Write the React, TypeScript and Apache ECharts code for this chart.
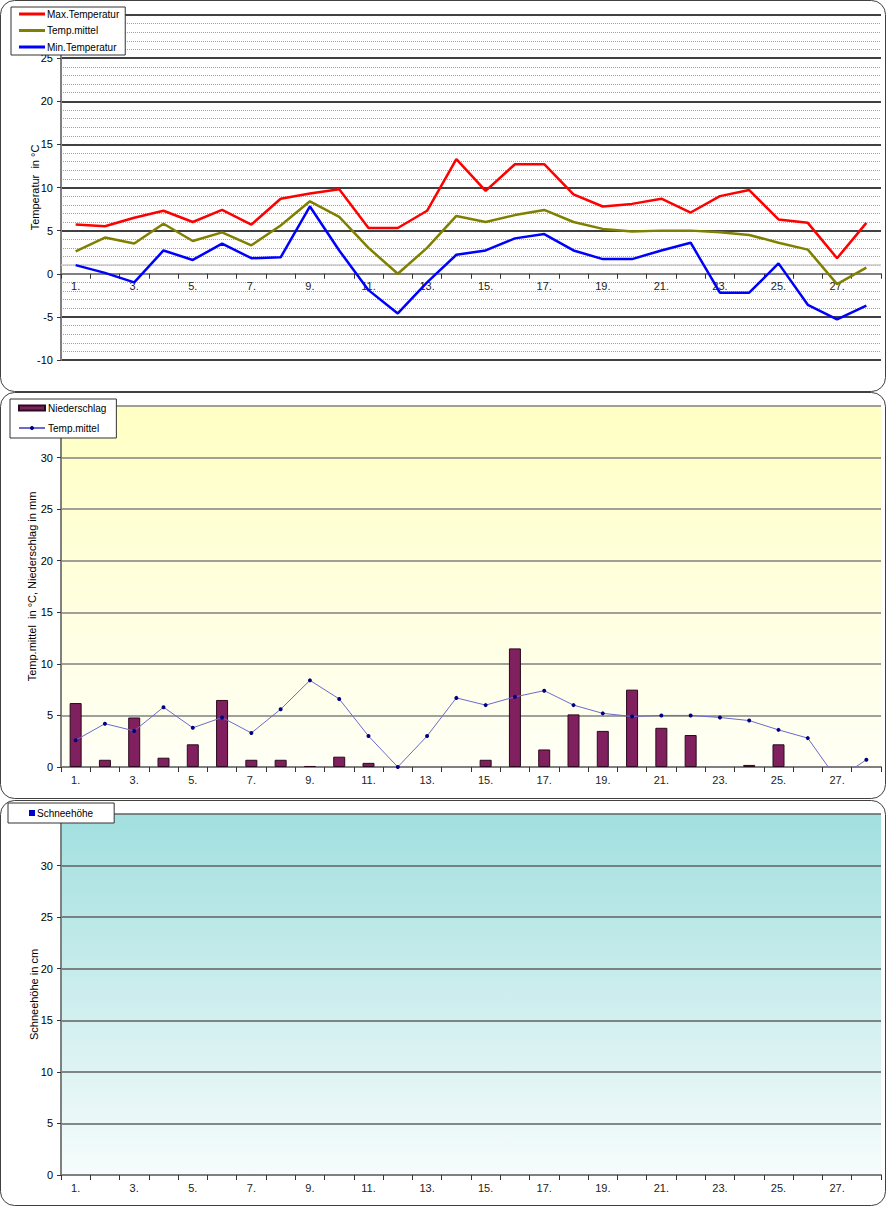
import React, { useEffect, useRef } from "react";
import * as echarts from "echarts";

const days = Array.from({ length: 28 }, (_, i) => `${i + 1}.`);
const maxTemp = [5.7, 5.5, 6.5, 7.3, 6.0, 7.4, 5.7, 8.7, 9.3, 9.8, 5.3, 5.3, 7.3, 13.3, 9.6, 12.7, 12.7, 9.2, 7.8, 8.1, 8.7, 7.1, 9.0, 9.7, 6.3, 5.9, 1.8, 5.9];
const meanTemp = [2.6, 4.2, 3.5, 5.8, 3.8, 4.8, 3.3, 5.6, 8.4, 6.6, 3.0, 0.0, 3.0, 6.7, 6.0, 6.8, 7.4, 6.0, 5.2, 4.9, 5.0, 5.0, 4.8, 4.5, 3.6, 2.8, -1.2, 0.7];
const minTemp = [1.0, 0.1, -1.0, 2.7, 1.6, 3.5, 1.8, 1.9, 7.8, 2.7, -1.9, -4.6, -1.0, 2.2, 2.7, 4.1, 4.6, 2.7, 1.7, 1.7, 2.7, 3.6, -2.2, -2.2, 1.2, -3.6, -5.3, -3.7];
const precipitation = [6.2, 0.7, 4.8, 0.9, 2.2, 6.5, 0.7, 0.7, 0.1, 1.0, 0.4, 0, 0, 0, 0.7, 11.5, 1.7, 5.1, 3.5, 7.5, 3.8, 3.1, 0, 0.2, 2.2, 0, 0, 0];
const snowDepth = [0, 0, 0, 0, 0, 0, 0, 0, 0, 0, 0, 0, 0, 0, 0, 0, 0, 0, 0, 0, 0, 0, 0, 0, 0, 0, 0, 0];

const FONT = "Liberation Sans, Arial, sans-serif";
const TOP_MIN = -10;
const TOP_MAX = 30;
const TOP_H = 345;

export default function App() {
  const ref = useRef<HTMLDivElement>(null);
  useEffect(() => {
    if (!ref.current) return;
    const chart = echarts.init(ref.current, null, { renderer: "svg" });

    const xAxisBase = (gridIndex: number, offset: number) => ({
      type: "category",
      gridIndex,
      data: days,
      boundaryGap: true,
      position: "bottom",
      offset,
      axisLine: { onZero: false, lineStyle: { color: "#808080", width: 2 } },
      axisTick: { show: true, interval: 0, length: 5, lineStyle: { color: "#333" } },
      axisLabel: { interval: 1, fontSize: 11, color: "#222", fontFamily: FONT, margin: 7 },
      splitLine: { show: false },
    });

    const yLabel = { fontSize: 11, color: "#000", fontFamily: FONT, margin: 8 };
    const yName = { fontSize: 11, color: "#000", fontFamily: FONT };
    const hideZero = (arr: number[]) => arr.map((v) => (v === 0 ? null : v));
    // the x axis of the temperature chart crosses at 0
    const zeroOffset = -((0 - TOP_MIN) / (TOP_MAX - TOP_MIN)) * TOP_H;

    const option: any = {
      animation: false,
      backgroundColor: "#fff",
      textStyle: { fontFamily: FONT },
      graphic: [
        { type: "rect", shape: { x: 0.5, y: 0.5, width: 885, height: 391, r: 14 }, style: { fill: "none", stroke: "#404040", lineWidth: 1 }, z: 100 },
        { type: "rect", shape: { x: 0.5, y: 392.5, width: 885, height: 406, r: 14 }, style: { fill: "none", stroke: "#404040", lineWidth: 1 }, z: 100 },
        { type: "rect", shape: { x: 0.5, y: 800.5, width: 885, height: 405, r: 14 }, style: { fill: "none", stroke: "#404040", lineWidth: 1 }, z: 100 },
      ],
      grid: [
        { left: 61, top: 15, width: 820, height: TOP_H, show: false },
        {
          left: 61, top: 406, width: 820, height: 361, show: true, borderWidth: 0,
          backgroundColor: new echarts.graphic.LinearGradient(0, 0, 0, 1, [
            { offset: 0, color: "#ffffc4" },
            { offset: 1, color: "#fffff6" },
          ]),
        },
        {
          left: 61, top: 814, width: 820, height: 361, show: true, borderWidth: 0,
          backgroundColor: new echarts.graphic.LinearGradient(0, 0, 0, 1, [
            { offset: 0, color: "#a2dfdf" },
            { offset: 1, color: "#f7fcfc" },
          ]),
        },
      ],
      legend: [
        {
          data: ["Max.Temperatur", "Temp.mittel", "Min.Temperatur"].map((n) => ({ name: n, icon: "rect" })),
          orient: "vertical", left: 11, top: 7,
          itemWidth: 26, itemHeight: 3, itemGap: 6.5,
          padding: [2, 6, 3, 8],
          backgroundColor: "#fff", borderColor: "#333", borderWidth: 1,
          textStyle: { fontSize: 10, color: "#000", fontFamily: FONT, padding: [0, 0, 0, -3] },
          z: 50,
        },
        {
          data: [
            { name: "Niederschlag", icon: "rect" },
            { name: "Temp.mittel " },
          ],
          orient: "vertical", left: 10, top: 399,
          itemWidth: 26, itemHeight: 5, itemGap: 10,
          padding: [4, 10, 5, 8],
          backgroundColor: "#fff", borderColor: "#333", borderWidth: 1,
          textStyle: { fontSize: 10, color: "#000", fontFamily: FONT, padding: [0, 0, 0, -2] },
          z: 50,
        },
        {
          data: [{ name: "Schneehöhe", icon: "rect" }],
          orient: "horizontal", left: 8, top: 803,
          itemWidth: 6, itemHeight: 6, itemGap: 4,
          padding: [5, 21, 5, 21],
          backgroundColor: "#fff", borderColor: "#333", borderWidth: 1,
          textStyle: { fontSize: 10, color: "#000", fontFamily: FONT, padding: [0, 0, 0, -3] },
          z: 50,
        },
      ],
      xAxis: [xAxisBase(0, zeroOffset), xAxisBase(1, 0), xAxisBase(2, 0)],
      yAxis: [
        {
          type: "value", gridIndex: 0, min: TOP_MIN, max: TOP_MAX, interval: 5,
          name: "Temperatur  in °C", nameLocation: "middle", nameGap: 21, nameMoveOverlap: false, nameTextStyle: yName,
          axisLine: { show: true, lineStyle: { color: "#808080", width: 2 } },
          axisTick: { show: true, length: 4, lineStyle: { color: "#333" } },
          axisLabel: { ...yLabel, formatter: (v: number) => (v === TOP_MAX ? "" : String(v)) },
          splitLine: { show: true, lineStyle: { color: "#000", width: 1.5 } },
          minorTick: { show: false, splitNumber: 5 },
          minorSplitLine: { show: true, lineStyle: { color: "#a0a0a0", width: 1, type: [1, 1] } },
        },
        {
          type: "value", gridIndex: 1, min: 0, max: 35, interval: 5,
          name: "Temp.mittel  in °C, Niederschlag in mm", nameLocation: "middle", nameGap: 24, nameMoveOverlap: false, nameTextStyle: yName,
          axisLine: { show: true, lineStyle: { color: "#808080", width: 2 } },
          axisTick: { show: true, length: 4, lineStyle: { color: "#333" } },
          axisLabel: { ...yLabel, formatter: (v: number) => (v === 35 ? "" : String(v)) },
          splitLine: { show: true, lineStyle: { color: "#808080", width: 1.5 } },
        },
        {
          type: "value", gridIndex: 2, min: 0, max: 35, interval: 5,
          name: "Schneehöhe in cm", nameLocation: "middle", nameGap: 22, nameMoveOverlap: false, nameTextStyle: yName,
          axisLine: { show: true, lineStyle: { color: "#808080", width: 2 } },
          axisTick: { show: true, length: 4, lineStyle: { color: "#333" } },
          axisLabel: { ...yLabel, formatter: (v: number) => (v === 35 ? "" : String(v)) },
          splitLine: { show: true, lineStyle: { color: "#606060", width: 1.5 } },
        },
      ],
      series: [
        {
          name: "Max.Temperatur", type: "line", xAxisIndex: 0, yAxisIndex: 0, data: maxTemp,
          showSymbol: false, symbol: "none", color: "#ff0000", lineStyle: { width: 2.5, color: "#ff0000" }, z: 5,
        },
        {
          name: "Temp.mittel", type: "line", xAxisIndex: 0, yAxisIndex: 0, data: meanTemp,
          showSymbol: false, symbol: "none", color: "#808000", lineStyle: { width: 2.5, color: "#808000" }, z: 5,
        },
        {
          name: "Min.Temperatur", type: "line", xAxisIndex: 0, yAxisIndex: 0, data: minTemp,
          showSymbol: false, symbol: "none", color: "#0000ff", lineStyle: { width: 2.5, color: "#0000ff" }, z: 5,
          markLine: {
            silent: true, symbol: "none", label: { show: false },
            lineStyle: { color: "#c8c8c8", type: "solid", width: 1.5 },
            data: [{ yAxis: 1 }],
            z: 1,
          },
        },
        {
          name: "Niederschlag", type: "bar", xAxisIndex: 1, yAxisIndex: 1, data: hideZero(precipitation),
          barWidth: 12, color: "#80205e",
          itemStyle: { color: "#80205e", borderColor: "#2a0a1e", borderWidth: 1 },
        },
        {
          name: "Temp.mittel ", type: "line", xAxisIndex: 1, yAxisIndex: 1, data: meanTemp,
          symbol: "circle", symbolSize: 4, showSymbol: true, clip: true,
          color: "#000080",
          itemStyle: { color: "#000080" },
          lineStyle: { width: 1, color: "#6a6acd" },
          z: 5,
        },
        {
          name: "Schneehöhe", type: "bar", xAxisIndex: 2, yAxisIndex: 2, data: hideZero(snowDepth),
          barWidth: 12, color: "#0000cc", itemStyle: { color: "#0000cc" },
        },
      ],
    };

    chart.setOption(option);
    return () => chart.dispose();
  }, []);

  return (
    <div style={{ position: "absolute", left: 0, top: 0, width: 887, height: 1207 }}>
      <div ref={ref} style={{ width: 887, height: 1207 }} />
    </div>
  );
}
